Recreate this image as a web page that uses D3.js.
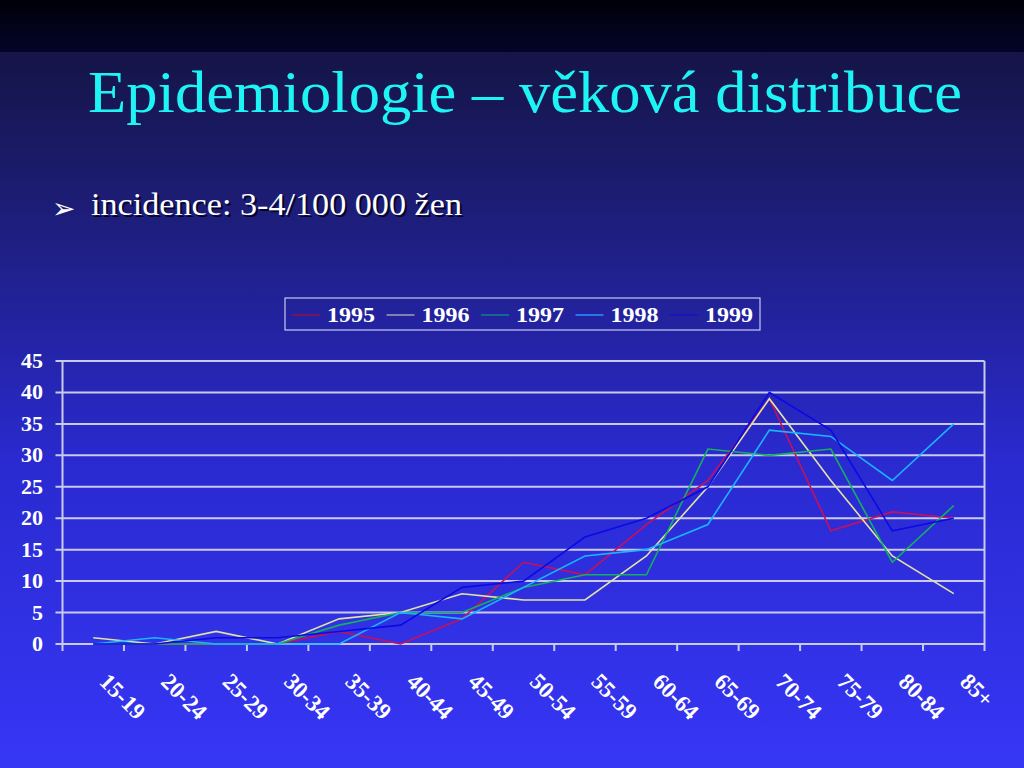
<!DOCTYPE html>
<html>
<head>
<meta charset="utf-8">
<script src="https://cdn.jsdelivr.net/npm/d3@7"></script>
<style>
  html, body { margin: 0; padding: 0; background: #000; }
  svg { display: block; }
</style>
</head>
<body>
<div id="chart"></div>
<script>
const ageGroups = ['15-19', '20-24', '25-29', '30-34', '35-39', '40-44', '45-49', '50-54',
  '55-59', '60-64', '65-69', '70-74', '75-79', '80-84', '85+']

const years = ['1995', '1996', '1997', '1998', '1999']

const cases1995 = [0, 0, 0, 0, 2, 0, 4, 13, 11, 19, 26, 39, 18, 21, 20]
const cases1996 = [1, 0, 2, 0, 4, 5, 8, 7, 7, 14, 25, 39, 26, 14, 8]
const cases1997 = [0, 0, 0, 0, 3, 5, 5, 9, 11, 11, 31, 30, 31, 13, 22]
const cases1998 = [0, 1, 0, 0, 0, 5, 4, 9, 14, 15, 19, 34, 33, 26, 35]
const cases1999 = [0, 0, 1, 1, 2, 3, 9, 10, 17, 20, 25, 40, 34, 18, 20]

const yTicks = [0, 5, 10, 15, 20, 25, 30, 35, 40, 45]

const seriesValues = [cases1995, cases1996, cases1997, cases1998, cases1999]
const lineColors = ['#c8105a', '#e2e2a6', '#14b060', '#1ab4ff', '#0a0ae6']
const legendColors = ['#8a1050', '#9a9ab0', '#107a90', '#2a8cff', '#1414c8']

const W = 1024, H = 768
const serif = '"Liberation Serif", "Times New Roman", serif'

const svg = d3.select('#chart')
  .append('svg')
  .attr('width', W)
  .attr('height', H)

// background
const defs = svg.append('defs')
const bg = defs.append('linearGradient')
  .attr('id', 'bg')
  .attr('x1', 0).attr('y1', 0).attr('x2', 0).attr('y2', 1)
bg.append('stop').attr('offset', '0%').attr('stop-color', '#121238')
bg.append('stop').attr('offset', '25%').attr('stop-color', '#1c1c72')
bg.append('stop').attr('offset', '60%').attr('stop-color', '#2a2ad0')
bg.append('stop').attr('offset', '100%').attr('stop-color', '#3636f6')

const band = defs.append('linearGradient')
  .attr('id', 'band')
  .attr('x1', 0).attr('y1', 0).attr('x2', 0).attr('y2', 1)
band.append('stop').attr('offset', '0%').attr('stop-color', '#000008')
band.append('stop').attr('offset', '100%').attr('stop-color', '#04042a')

svg.append('rect').attr('width', W).attr('height', H).attr('fill', 'url(#bg)')
svg.append('rect').attr('width', W).attr('height', 52).attr('fill', 'url(#band)')

// title
svg.append('text')
  .attr('x', 88)
  .attr('y', 112)
  .attr('font-family', serif)
  .attr('font-size', 60)
  .attr('textLength', 874)
  .attr('lengthAdjust', 'spacingAndGlyphs')
  .attr('fill', '#1ef4f4')
  .text('Epidemiologie – věková distribuce')

// bullet
svg.append('text')
  .attr('x', 52)
  .attr('y', 218)
  .attr('font-family', '"DejaVu Sans", sans-serif')
  .attr('font-size', 28)
  .attr('fill', '#ffffff')
  .text('➢')

const sub = 'incidence: 3-4/100 000 žen'
svg.append('text')
  .attr('x', 93).attr('y', 217)
  .attr('font-family', serif).attr('font-size', 31)
  .attr('textLength', 371).attr('lengthAdjust', 'spacingAndGlyphs')
  .attr('fill', '#05052a')
  .text(sub)
svg.append('text')
  .attr('x', 91).attr('y', 215)
  .attr('font-family', serif).attr('font-size', 31)
  .attr('textLength', 371).attr('lengthAdjust', 'spacingAndGlyphs')
  .attr('fill', '#ffffff')
  .text(sub)

// scales
const plotLeft = 62.5, plotRight = 984.5, plotTop = 361, plotBottom = 644

const x = d3.scalePoint()
  .domain(ageGroups)
  .range([plotLeft, plotRight])
  .padding(0.5)

const xBand = d3.scaleBand()
  .domain(ageGroups)
  .range([plotLeft, plotRight])

const y = d3.scaleLinear()
  .domain([0, 45])
  .range([plotBottom, plotTop])

const gridColor = '#cacaee'

// gridlines with left ticks
svg.append('g')
  .selectAll('line')
  .data(yTicks)
  .enter()
  .append('line')
  .attr('x1', plotLeft - 7)
  .attr('x2', plotRight)
  .attr('y1', d => y(d))
  .attr('y2', d => y(d))
  .attr('stroke', gridColor)
  .attr('stroke-width', 2)

// y axis labels
svg.append('g')
  .selectAll('text')
  .data(yTicks)
  .enter()
  .append('text')
  .attr('x', 43)
  .attr('y', d => y(d) + 7)
  .attr('text-anchor', 'end')
  .attr('font-family', serif)
  .attr('font-weight', 'bold')
  .attr('font-size', 22)
  .attr('fill', '#ffffff')
  .text(d => d)

// axis lines
svg.append('line')
  .attr('x1', plotLeft).attr('x2', plotLeft)
  .attr('y1', plotTop).attr('y2', plotBottom + 7)
  .attr('stroke', gridColor).attr('stroke-width', 2)
svg.append('line')
  .attr('x1', plotRight).attr('x2', plotRight)
  .attr('y1', plotTop).attr('y2', plotBottom + 7)
  .attr('stroke', gridColor).attr('stroke-width', 2)

// x ticks at category boundaries
svg.append('g')
  .selectAll('line')
  .data(ageGroups.slice(1))
  .enter()
  .append('line')
  .attr('x1', d => xBand(d))
  .attr('x2', d => xBand(d))
  .attr('y1', plotBottom)
  .attr('y2', plotBottom + 7)
  .attr('stroke', gridColor)
  .attr('stroke-width', 2)

// x labels
svg.append('g')
  .selectAll('text')
  .data(ageGroups)
  .enter()
  .append('text')
  .attr('transform', d => `translate(${x(d) + 5},683) rotate(45)`)
  .attr('font-family', serif)
  .attr('font-weight', 'bold')
  .attr('font-size', 23)
  .attr('fill', '#ffffff')
  .text(d => d)

// lines
const line = d3.line()
  .x((d, i) => x(ageGroups[i]))
  .y(d => y(d))

svg.append('g')
  .selectAll('path')
  .data(seriesValues)
  .enter()
  .append('path')
  .attr('d', line)
  .attr('fill', 'none')
  .attr('stroke', (d, i) => lineColors[i])
  .attr('stroke-width', 1.6)
  .attr('stroke-linejoin', 'miter')

// legend
const legend = svg.append('g').attr('transform', 'translate(285,298)')
legend.append('rect')
  .attr('width', 475)
  .attr('height', 32)
  .attr('fill', 'none')
  .attr('stroke', '#e8e8ff')
  .attr('stroke-width', 1)

const item = legend.selectAll('g')
  .data(years)
  .enter()
  .append('g')
  .attr('transform', (d, i) => `translate(${7 + i * 94.5},0)`)

item.append('line')
  .attr('x1', 0).attr('x2', 28)
  .attr('y1', 17).attr('y2', 17)
  .attr('stroke', (d, i) => legendColors[i])
  .attr('stroke-width', 1.6)

item.append('text')
  .attr('x', 35)
  .attr('y', 24)
  .attr('font-family', serif)
  .attr('font-weight', 'bold')
  .attr('font-size', 22)
  .attr('textLength', 48)
  .attr('lengthAdjust', 'spacingAndGlyphs')
  .attr('fill', '#ffffff')
  .text(d => d)
</script>
</body>
</html>
